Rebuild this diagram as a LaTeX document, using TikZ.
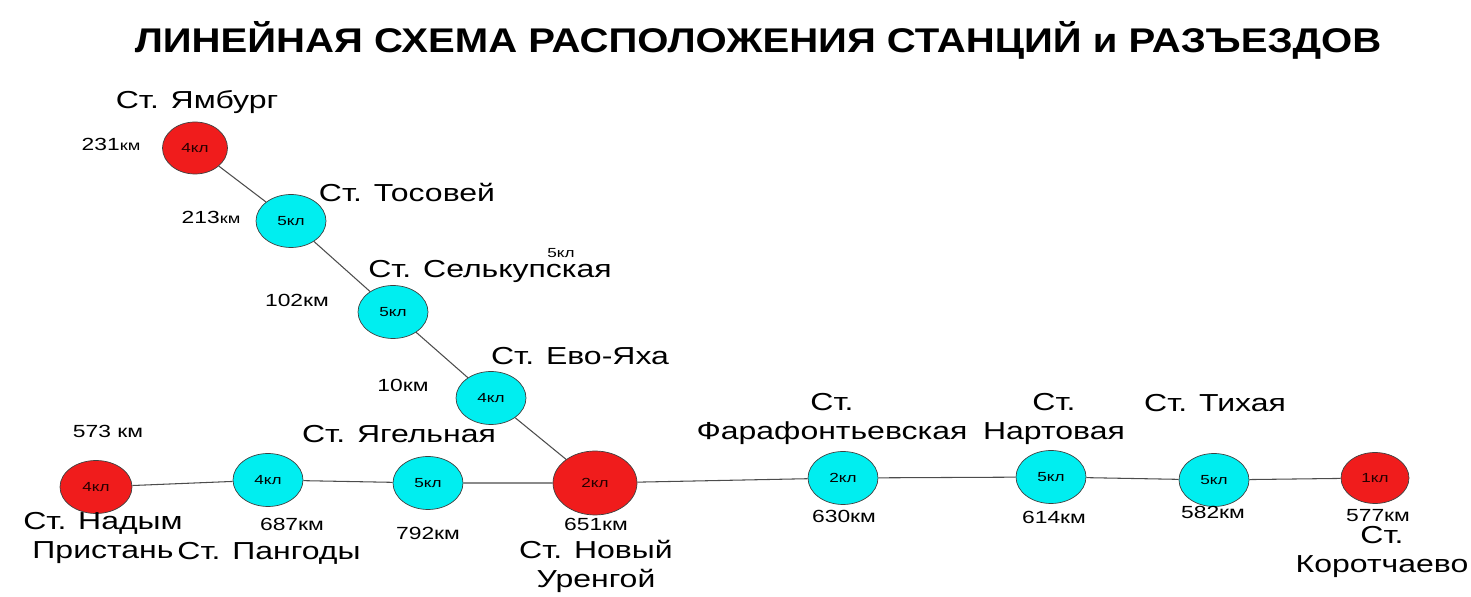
\documentclass[tikz,border=0pt]{standalone}
\usepackage{fontspec}
\setmainfont[FakeStretch=1.3]{Liberation Sans}
\usetikzlibrary{shapes.geometric}
\definecolor{uzel}{RGB}{240,28,28}
\definecolor{razd}{RGB}{0,238,240}
\tikzset{
    stn/.style={ellipse, draw=black!75, inner sep=0pt, minimum width=1.4cm, minimum height=1.06cm, font=\fontsize{7.5}{9}\selectfont},
    krup/.style={stn, fill=uzel, text=black!85!red},
    mal/.style={stn, fill=razd},
    nazv/.style={font=\fontsize{14}{16.5}\selectfont, align=center},
    dist/.style={font=\fontsize{10}{12}\selectfont},
    put/.style={gray!60!black, line width=0.6pt}
}

\begin{document}
\begin{tikzpicture}[x=0.02cm, y=-0.02cm]
    \useasboundingbox (0,0) rectangle (1471,597);
    % Заголовок
    \node[font=\bfseries\fontsize{19.5}{22}\selectfont] (zag) at (758,40) {\scalebox{0.9}[1]{ЛИНЕЙНАЯ СХЕМА РАСПОЛОЖЕНИЯ СТАНЦИЙ и РАЗЪЕЗДОВ}};

    % Ветка на Ямбург
    \node[krup, minimum width=1.3cm, minimum height=1.04cm] (jamb) at (195,148) {4кл};
    \node[mal] (tos) at (291,221) {5кл};
    \node[mal] (selk) at (393,312) {5кл};
    \node[mal] (evo) at (491,398) {4кл};

    % Основной ход
    \node[krup, minimum width=1.44cm] (nad) at (96,487) {4кл};
    \node[mal] (pang) at (268,480) {4кл};
    \node[mal] (jag) at (428,483) {5кл};
    \node[krup, minimum width=1.68cm, minimum height=1.28cm] (nur) at (595,483) {2кл};
    \node[mal] (fara) at (843,478) {2кл};
    \node[mal] (nart) at (1051,477) {5кл};
    \node[mal] (tih) at (1214,480) {5кл};
    \node[krup, minimum width=1.36cm, minimum height=1.02cm] (kor) at (1375,478) {1кл};

    % Пути
    \draw[put] (jamb) -- (tos) -- (selk) -- (evo) -- (nur);
    \draw[put] (nad) -- (pang) -- (jag) -- (nur) -- (fara) -- (nart) -- (tih) -- (kor);

    % Названия станций
    \node[nazv] (n-jamb) at (197,102) {Ст. Ямбург};
    \node[nazv] (n-tos) at (407,192) {Ст. Тосовей};
    \node[nazv] (n-selk) at (490,271) {Ст. Селькупская};
    \node[nazv] (n-evo) at (580,356) {Ст. Ево-Яха};
    \node[nazv] (n-jag) at (399,434) {Ст. Ягельная};
    \node[nazv] (n-nad) at (103,538) {Ст. Надым\\Пристань};
    \node[nazv] (n-pang) at (269,553) {Ст. Пангоды};
    \node[nazv] (n-nur) at (596,566) {Ст. Новый\\Уренгой};
    \node[nazv] (n-fara) at (832,419) {Ст.\\Фарафонтьевская};
    \node[nazv] (n-nart) at (1054,419) {Ст.\\Нартовая};
    \node[nazv] (n-tih) at (1215,403) {Ст. Тихая};
    \node[nazv] (n-kor) at (1382,552) {Ст.\\Коротчаево};

    % Километры
    \node[dist] (k-jamb) at (111,144) {231{\fontsize{8}{9}\selectfont км}};
    \node[dist] (k-tos) at (211,217) {213{\fontsize{8}{9}\selectfont км}};
    \node[dist] (k-selk) at (297,300) {102км};
    \node[dist] (k-evo) at (403,385) {10км};
    \node[dist] (k-nad) at (108,431) {573 км};
    \node[dist] (k-pang) at (292,524) {687км};
    \node[dist] (k-jag) at (428,533) {792км};
    \node[dist] (k-nur) at (596,524) {651км};
    \node[dist] (k-fara) at (844,516) {630км};
    \node[dist] (k-nart) at (1054,517) {614км};
    \node[dist] (k-tih) at (1213,512) {582км};
    \node[dist] (k-kor) at (1378,516) {577км};
    \node[font=\fontsize{7.5}{9}\selectfont] (kl) at (561,253) {5кл};
\end{tikzpicture}
\end{document}
